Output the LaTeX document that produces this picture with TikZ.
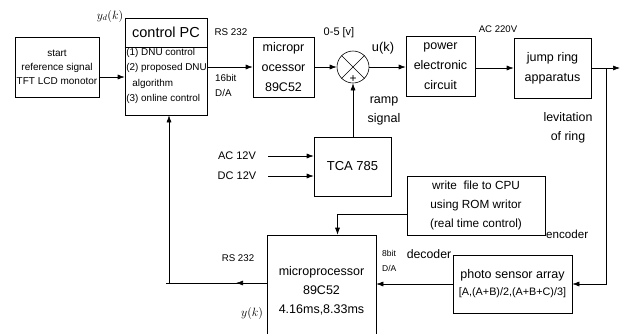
\documentclass[tikz,border=0pt]{standalone}
\usepackage{fontspec}
\setmainfont{Liberation Sans}
\usetikzlibrary{arrows.meta}
\newcommand\fsz[2]{\fontsize{#1}{#2}\selectfont}
\begin{document}
\begin{tikzpicture}[x=1pt,y=-1pt,
  ln/.style={line width=0.6pt},
  box/.style={draw, ln, inner sep=0pt, align=center, font=\fsz{12.5}{20}},
  lbl/.style={inner sep=0pt, align=center},
  arr/.style={ln, -{Latex[length=7pt,width=5pt]}}]
\useasboundingbox (0,0) rectangle (623,333);

% boxes
\node[box, minimum width=84pt, minimum height=60pt, font=\fsz{10}{14}] (start) at (57,67) {start\\reference signal\\TFT LCD monotor};
\node[box, minimum width=82pt, minimum height=97pt] (pc) at (166,66.5) {};
\coordinate (pcdiv) at (0,47);
\draw[ln] (pc.west |- pcdiv) -- (pc.east |- pcdiv);
\node[lbl, font=\fsz{14.5}{17}] (pctitle) at (166,32) {control PC};
\node[lbl, anchor=west, align=left, font=\fsz{9.9}{15.3}] (pclist) at (126.2,76) {(1) DNU control\\(2) proposed DNU\\\hspace*{6pt}algorithm\\(3) online control};
\node[box, minimum width=61pt, minimum height=60pt] (mp1) at (283.5,67) {micropr\\ocessor\\89C52};
\node[draw, ln, circle, minimum size=32pt, inner sep=0pt] (sum) at (353,67) {};
\draw[ln] (sum.north west) -- (sum.south east);
\draw[ln] (sum.north east) -- (sum.south west);
\node[lbl, font=\fsz{12}{12}] (plus) at (353,79) {+};
\node[box, minimum width=69pt, minimum height=60pt] (pw) at (440.5,66) {power\\electronic\\circuit};
\node[box, minimum width=77pt, minimum height=60pt] (jr) at (552.5,68) {jump ring\\apparatus};
\node[box, minimum width=77pt, minimum height=59pt, font=\fsz{13}{16}] (tca) at (352.5,166.5) {TCA 785};
\node[box, minimum width=138pt, minimum height=59pt, font=\fsz{11.8}{19}] (wr) at (476,205.5) {write\ \ file to CPU\\using ROM writor\\(real time control)};
\node[box, minimum width=109pt, minimum height=100pt] (mp2) at (321.5,285) {};
\node[lbl, font=\fsz{12.5}{19}] (mp2t) at (321.5,291) {microprocessor\\89C52\\4.16ms,8.33ms};
\node[box, minimum width=119pt, minimum height=58pt] (ph) at (512.5,284) {photo sensor array\\[-3pt]{\fsz{10.8}{13}[A,(A+B)/2,(A+B+C)/3]}};

% coordinates
\coordinate (out) at (620,68);
\coordinate (br) at (606,68);
\coordinate (fb) at (0,283);
\coordinate (fbmid) at (236,283);
\coordinate (ac) at (268,156);
\coordinate (dc) at (268,176);

% connectors
\draw[arr] ([yshift=-10pt]start.east) -- ([yshift=-10pt]start.east -| pc.west);
\draw[arr] (pc.east |- mp1.west) -- (mp1.west);
\draw[arr] (mp1.east) -- (sum.west);
\draw[arr] (sum.east) -- (sum.east -| pw.west);
\draw[arr] (pw.east |- jr.west) -- (jr.west);
\draw[arr] (jr.east) -- (out);
\draw[arr] (br) |- (ph.east);
\draw[arr] (ph.west) -- (ph.west -| mp2.east);
\draw[arr] (mp2.west |- fb) -- (fbmid);
\draw[ln] (fbmid) -- (fbmid -| pc.south);
\draw[arr] (mp2.west |- fb) -| ([xshift=3pt]pc.south);
\draw[arr] (sum.south |- tca.north) -- (sum.south);
\draw[arr] (ac) -- (ac -| tca.west);
\draw[arr] (dc) -- (dc -| tca.west);
\draw[arr] ([yshift=-9pt]wr.west) -| ([xshift=16pt]mp2.north);

% labels
\node[lbl, font=\fsz{11.5}{12}] (lyd) at (110,16) {$y_d(k)$};
\node[lbl, font=\fsz{9.8}{12}] (lrs1) at (231,32) {RS 232};
\node[lbl, anchor=west, align=left, font=\fsz{9.8}{15}] (lda1) at (215,85) {16bit\\D/A};
\node[lbl, font=\fsz{11}{13}] (lv) at (339,33) {0-5 [v]};
\node[lbl, font=\fsz{12.8}{15}] (luk) at (383,48) {u(k)};
\node[lbl, font=\fsz{9.6}{12}] (lac220) at (498,29) {AC 220V};
\node[lbl, font=\fsz{12.4}{19}] (llev) at (568,127.5) {levitation\\of ring};
\node[lbl, font=\fsz{12.5}{19}] (lramp) at (384,110.5) {ramp\\signal};
\node[lbl, font=\fsz{11}{13}] (lac12) at (237,156) {AC 12V};
\node[lbl, font=\fsz{11}{13}] (ldc12) at (237,176) {DC 12V};
\node[lbl, anchor=west, font=\fsz{11.6}{14}] (lenc) at (546,234) {encoder};
\node[lbl, font=\fsz{12.3}{14}] (ldec) at (429,254) {decoder};
\node[lbl, anchor=west, align=left, font=\fsz{8.5}{15}] (lda2) at (382,261) {8bit\\D/A};
\node[lbl, font=\fsz{9.7}{12}] (lrs2) at (238,258) {RS 232};
\node[lbl, font=\fsz{11.5}{12}] (lyk) at (252,313) {$y(k)$};
\end{tikzpicture}
\end{document}
